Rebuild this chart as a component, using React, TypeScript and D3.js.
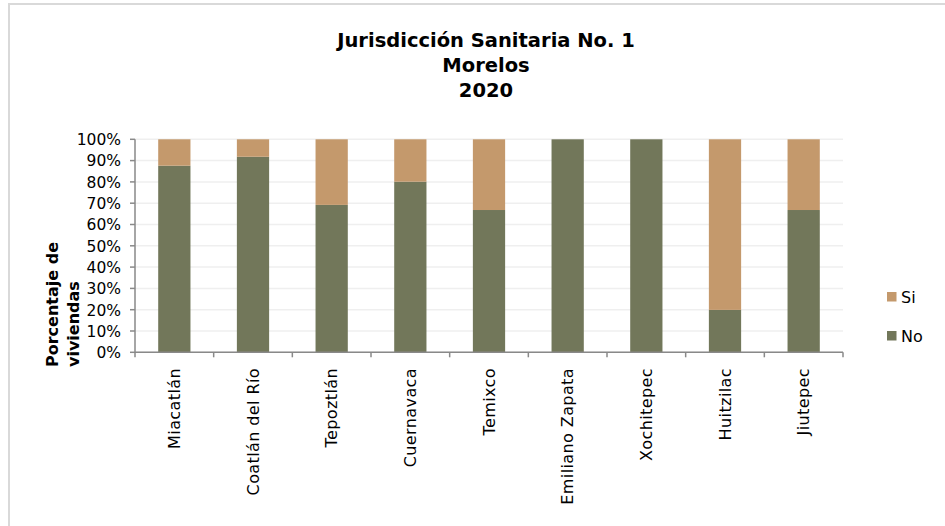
import React from "react";
import * as d3 from "d3";

const categories = ["Miacatlán", "Coatlán del Río", "Tepoztlán", "Cuernavaca", "Temixco", "Emiliano Zapata", "Xochitepec", "Huitzilac", "Jiutepec"];
const noValues = [87.6, 91.8, 69.2, 80.1, 66.8, 100, 100, 19.9, 66.8];
const siValues = noValues.map((v) => 100 - v);
const yTicks = [0, 10, 20, 30, 40, 50, 60, 70, 80, 90, 100];
const titleLines = ["Jurisdicción Sanitaria No. 1", "Morelos", "2020"];
const seriesNames = ["Si", "No"];

const COLOR_NO = "#72775A";
const COLOR_SI = "#C4996C";
const FONT = "'DejaVu Sans', Verdana, sans-serif";

export default function App() {
  const W = 945, H = 526;
  const left = 135, right = 843, top = 139.3, bottom = 352.3;
  const x = d3.scaleBand<string>().domain(categories).range([left, right]).paddingInner(0.59).paddingOuter(0.295);
  const y = d3.scaleLinear().domain([0, 100]).range([bottom, top]);
  const bw = x.bandwidth();
  const boundaries = d3.range(categories.length + 1).map((i) => left + i * ((right - left) / categories.length));

  return (
    <svg width={W} height={H} style={{ position: "absolute", left: 0, top: 0 }}>
      <rect x={0} y={0} width={W} height={H} fill="#fff" />
      <rect x={9} y={4} width={W + 20} height={H + 20} fill="none" stroke="#d9d9d9" strokeWidth={2} />
      <g fontFamily={FONT} fontWeight="bold" fontSize={19.5} textAnchor="middle" fill="#000">
        {titleLines.map((t, i) => (
          <text key={i} x={486} y={47 + i * 25}>{t}</text>
        ))}
      </g>
      {yTicks.map((t) => (
        <line key={"g" + t} x1={left} x2={right} y1={y(t)} y2={y(t)} stroke="#efefef" strokeWidth={1.5} />
      ))}
      {categories.map((c, i) => (
        <g key={c}>
          <rect x={x(c)} y={y(noValues[i])} width={bw} height={y(0) - y(noValues[i])} fill={COLOR_NO} />
          <rect x={x(c)} y={y(noValues[i] + siValues[i])} width={bw} height={y(noValues[i]) - y(noValues[i] + siValues[i])} fill={COLOR_SI} />
        </g>
      ))}
      <line x1={left} x2={left} y1={top} y2={bottom} stroke="#898989" strokeWidth={1.5} />
      {yTicks.map((t) => (
        <g key={"t" + t}>
          <line x1={left - 5} x2={left} y1={y(t)} y2={y(t)} stroke="#898989" strokeWidth={1.5} />
          <text x={121} y={y(t) + 5.8} textAnchor="end" fontFamily={FONT} fontSize={15.5} fill="#000">{t}%</text>
        </g>
      ))}
      <line x1={left} x2={right} y1={bottom} y2={bottom} stroke="#898989" strokeWidth={1.5} />
      {boundaries.map((b, i) => (
        <line key={"b" + i} x1={b} x2={b} y1={bottom} y2={bottom + 5} stroke="#898989" strokeWidth={1.5} />
      ))}
      {categories.map((c) => {
        const cx = (x(c) as number) + bw / 2;
        return (
          <text key={"l" + c} transform={`translate(${cx + 5.5},368) rotate(-90)`} textAnchor="end" fontFamily={FONT} fontSize={16} letterSpacing={0.4} fill="#000">{c}</text>
        );
      })}
      <g fontFamily={FONT} fontWeight="bold" fontSize={16} fill="#000">
        <text transform="translate(58,367) rotate(-90)">Porcentaje de</text>
        <text transform="translate(79,367) rotate(-90)">viviendas</text>
      </g>
      {seriesNames.map((s, i) => (
        <g key={s}>
          <rect x={887} y={292 + i * 39} width={9.5} height={9.5} fill={s === "Si" ? COLOR_SI : COLOR_NO} />
          <text x={901} y={303 + i * 39} fontFamily={FONT} fontSize={16} fill="#000">{s}</text>
        </g>
      ))}
    </svg>
  );
}
